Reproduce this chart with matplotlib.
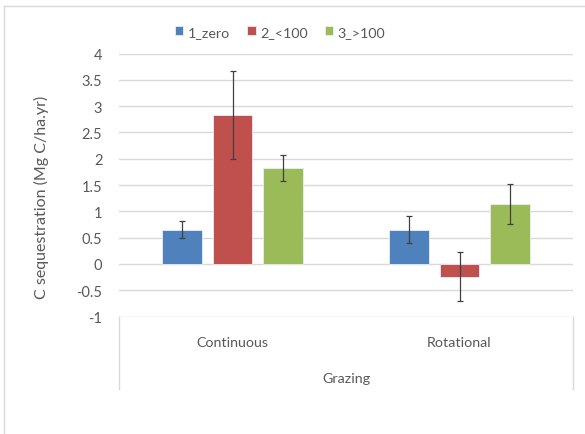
import numpy as np
import matplotlib
matplotlib.use("Agg")
import matplotlib.pyplot as plt
from matplotlib.lines import Line2D

# data
categories = ["Continuous", "Rotational"]
series_names = ["1_zero", "2_<100", "3_>100"]
zero_vals = [0.65, 0.65]
lt100_vals = [2.83, -0.24]
gt100_vals = [1.82, 1.14]
zero_err = [0.165, 0.26]
lt100_err = [0.84, 0.46]
gt100_err = [0.245, 0.38]
yticks = [-1, -0.5, 0, 0.5, 1, 1.5, 2, 2.5, 3, 3.5, 4]

colors = ["#4f81bd", "#c0504d", "#9bbb59"]
text_col = "#595959"
grid_col = "#d9d9d9"

plt.rcParams['font.family'] = ['Lato', 'DejaVu Sans']

W, H = 585, 435
fig = plt.figure(figsize=(W / 100, H / 100), dpi=100)
ax = fig.add_axes([119 / W, 1 - 317.5 / H, (573 - 119) / W, (317.5 - 54.5) / H])

x = np.arange(len(categories))
width = 0.174
step = 0.2216
values = [zero_vals, lt100_vals, gt100_vals]
errs = [zero_err, lt100_err, gt100_err]
for i, (vals, err) in enumerate(zip(values, errs)):
    ax.bar(x + (i - 1) * step, vals, width, color=colors[i], edgecolor="#e8eef6",
           linewidth=0.6, label=series_names[i], zorder=3)
    ax.errorbar(x + (i - 1) * step, vals, yerr=err, fmt="none", ecolor="#404040",
                elinewidth=0.9, capsize=2.5, capthick=0.9, zorder=4)

ax.set_xlim(-0.5, 1.5)
ax.set_ylim(-1, 4)
ax.set_yticks(yticks)
ax.set_yticklabels([f"{t:g}" for t in yticks])
ax.yaxis.grid(True, color=grid_col, linewidth=1.0, zorder=0)
ax.set_xticks([])
for s in ax.spines.values():
    s.set_visible(False)
ax.tick_params(axis="y", length=0, pad=12, labelsize=10.5, labelcolor=text_col)
ax.set_ylabel("C sequestration (Mg C/ha.yr)", fontsize=11.5, color=text_col,
              va="center")
ax.yaxis.set_label_coords(-0.17, 0.455)

# multi-level category box under the plot
def fx(px):
    return px / W

def fy(py):
    return 1 - py / H

box_col = "#d9d9d9"
for px in (119, 573):
    fig.add_artist(Line2D([fx(px), fx(px)], [fy(317.5), fy(390)], color=box_col, lw=1.0))
for c, cat in zip(x, categories):
    px = 119 + (c + 0.5) * (573 - 119) / 2
    fig.text(fx(px), fy(343), cat, ha="center", va="center", fontsize=10.3, color=text_col)
fig.text(fx(346), fy(379), "Grazing", ha="center", va="center", fontsize=10.3, color=text_col)

# outer chart border (top and left only visible)
fig.add_artist(Line2D([fx(4), fx(585)], [fy(7), fy(7)], color=box_col, lw=1.0))
fig.add_artist(Line2D([fx(4), fx(4)], [fy(7), fy(435)], color=box_col, lw=1.0))

fig.legend(loc="center", bbox_to_anchor=(fx(280), fy(33)), ncol=3, frameon=False,
           fontsize=10.3, labelcolor=text_col, handlelength=0.6, handleheight=0.6,
           handletextpad=0.3, columnspacing=1.2)

fig.savefig("out.png", dpi=100)
